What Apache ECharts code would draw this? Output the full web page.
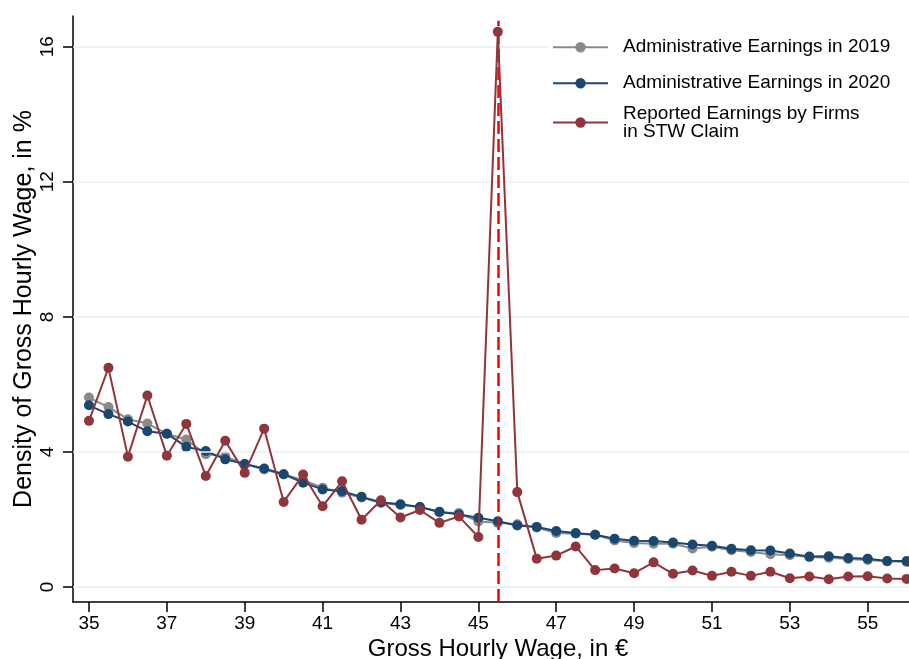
<!DOCTYPE html>
<html>
<head>
<meta charset="utf-8">
<script src="https://cdn.jsdelivr.net/npm/echarts@6/dist/echarts.min.js"></script>
<style>
html,body{margin:0;padding:0;background:#fff;}
#chart{width:909px;height:659px;}
</style>
</head>
<body>
<div id="chart"></div>
<script>
// ---- data ----
const wages = [35,35.5,36,36.5,37,37.5,38,38.5,39,39.5,40,40.5,41,41.5,42,42.5,43,43.5,44,44.5,45,45.5,46,46.5,47,47.5,48,48.5,49,49.5,50,50.5,51,51.5,52,52.5,53,53.5,54,54.5,55,55.5,56];
const admin2019 = [5.61,5.33,4.97,4.84,4.54,4.37,3.93,3.87,3.64,3.48,3.34,3.16,2.94,2.79,2.65,2.49,2.43,2.37,2.21,2.19,1.94,1.90,1.86,1.76,1.60,1.58,1.55,1.38,1.30,1.28,1.28,1.14,1.19,1.09,1.04,0.97,0.94,0.89,0.87,0.83,0.80,0.76,0.74];
const admin2020 = [5.38,5.12,4.90,4.61,4.54,4.15,4.03,3.78,3.64,3.51,3.34,3.09,2.89,2.84,2.67,2.51,2.45,2.37,2.23,2.15,2.05,1.95,1.82,1.78,1.66,1.60,1.55,1.43,1.37,1.36,1.32,1.26,1.22,1.13,1.09,1.08,0.99,0.90,0.91,0.86,0.84,0.77,0.77];
const reportedSTW = [4.92,6.49,3.86,5.67,3.89,4.83,3.29,4.33,3.38,4.69,2.52,3.33,2.39,3.13,1.99,2.57,2.06,2.28,1.90,2.09,1.48,16.44,2.81,0.84,0.93,1.20,0.50,0.55,0.41,0.73,0.39,0.49,0.33,0.45,0.33,0.45,0.26,0.31,0.23,0.31,0.32,0.25,0.24];
const thresholdWage = 45.5;
const thresholdTop = 16.77;
const xTicks = [35,37,39,41,43,45,47,49,51,53,55];
const yTicks = [0,4,8,12,16];
const seriesNames = ['Administrative Earnings in 2019','Administrative Earnings in 2020','Reported Earnings by Firms\nin STW Claim'];

const FONT = '"Liberation Sans", Arial, Helvetica, sans-serif';
const C_GRAY = '#8a8a8a', C_NAVY = '#1a476f', C_MAROON = '#90353b';
const Y_MIN = -0.444, Y_MAX = 16.91;

function pairs(vals){ return wages.map((w,i)=>[w, vals[i]]); }

const chart = echarts.init(document.getElementById('chart'), null, {renderer:'canvas'});
const legendText = {fontFamily: FONT, fontSize: 19, color: '#000', lineHeight: 18, padding: [0,0,0,10]};
const option = {
  animation: false,
  backgroundColor: '#ffffff',
  grid: {left: 73, right: 0, top: 16, bottom: 57, containLabel: false, outerBoundsMode: 'none'},
  xAxis: {
    type: 'value', min: 34.59, max: 56.06,
    name: 'Gross Hourly Wage, in €', nameLocation: 'middle', nameGap: 35, nameMoveOverlap: false,
    nameTextStyle: {fontFamily: FONT, fontSize: 24, color: '#000', padding: [0,0,0,14]},
    axisLine: {show: true, onZero: false, lineStyle: {color: '#000', width: 1.5}},
    axisTick: {show: true, length: 10, customValues: xTicks, lineStyle: {color: '#000', width: 1.5}},
    axisLabel: {customValues: xTicks, margin: 12, fontFamily: FONT, fontSize: 19, color: '#000'},
    splitLine: {show: false}
  },
  yAxis: {
    type: 'value', min: Y_MIN, max: Y_MAX,
    name: 'Density of Gross Hourly Wage, in %', nameLocation: 'middle', nameGap: 36, nameRotate: 90,
    nameMoveOverlap: false,
    nameTextStyle: {fontFamily: FONT, fontSize: 25, color: '#000'},
    axisLine: {show: true, onZero: false, lineStyle: {color: '#000', width: 1.5}},
    axisTick: {show: true, length: 10, customValues: yTicks, lineStyle: {color: '#000', width: 1.5}},
    axisLabel: {customValues: yTicks, rotate: 90, margin: 16, fontFamily: FONT, fontSize: 19, color: '#000'},
    splitLine: {show: false}
  },
  legend: [
    {
      data: [seriesNames[0], seriesNames[1]],
      orient: 'vertical', left: 549, top: 34.7, padding: [3, 40, 3, 3],
      backgroundColor: '#ffffff', z: 6,
      itemWidth: 55, itemHeight: 13, itemGap: 17,
      textStyle: legendText
    },
    {
      data: [seriesNames[2]],
      orient: 'vertical', left: 552, top: 104, padding: 0,
      itemWidth: 55, itemHeight: 13, itemGap: 17,
      textStyle: legendText
    }
  ],
  series: [
    {
      name: 'grid', type: 'line', data: [], z: 1, silent: true,
      markLine: {
        silent: true, symbol: ['none','none'], label: {show: false},
        lineStyle: {color: '#e8eff2', width: 1.5, type: 'solid'},
        data: yTicks.map(v => ({yAxis: v}))
      }
    },
    {
      name: seriesNames[0], type: 'line', data: pairs(admin2019), z: 3,
      symbol: 'circle', symbolSize: 10,
      lineStyle: {color: C_GRAY, width: 2}, itemStyle: {color: C_GRAY}
    },
    {
      name: seriesNames[1], type: 'line', data: pairs(admin2020), z: 4,
      symbol: 'circle', symbolSize: 10,
      lineStyle: {color: C_NAVY, width: 2}, itemStyle: {color: C_NAVY}
    },
    {
      name: seriesNames[2], type: 'line', data: pairs(reportedSTW), z: 5,
      symbol: 'circle', symbolSize: 10,
      lineStyle: {color: C_MAROON, width: 2}, itemStyle: {color: C_MAROON},
      markLine: {
        silent: true, symbol: ['none','none'], label: {show: false},
        lineStyle: {color: '#ff0000', width: 2.5, type: [13,5]},
        data: [[{coord: [thresholdWage, Y_MIN]}, {coord: [thresholdWage, thresholdTop]}]]
      }
    }
  ]
};
chart.setOption(option);
</script>
</body>
</html>
